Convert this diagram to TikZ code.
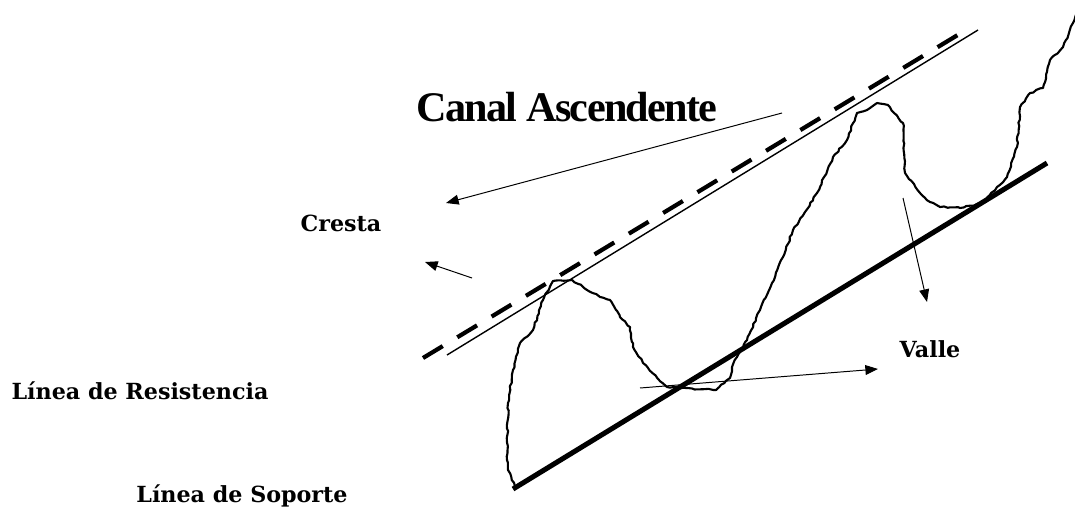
\documentclass[tikz,border=0pt]{standalone}
\usepackage{fontspec}
\newfontfamily\labelfont{DejaVu Serif}
\newfontfamily\canalfont{Liberation Serif}[LetterSpace=-4.0]
\usepackage{tikz}
\usetikzlibrary{arrows.meta, decorations.pathmorphing}
\definecolor{inkblack}{RGB}{0, 0, 0}

\tikzset{
	labeltext/.style={text=inkblack, inner sep=0pt, font=\labelfont\bfseries\fontsize{15.8}{18}\selectfont},
	pointer/.style={draw=inkblack, line width=0.7pt, -{Triangle[length=9pt,width=7pt]}},
	price/.style={draw=inkblack, line width=1.5pt, line join=round,
		decorate, decoration={random steps, segment length=2.5pt, amplitude=0.6pt}}
}

\begin{document}
\begin{tikzpicture}[x=0.025cm, y=-0.025cm]
	\useasboundingbox (0,0) rectangle (1075,506);

	\draw[inkblack, line width=3pt, dash pattern=on 16.4pt off 12.1pt] (423,358) -- (966,30);
	\draw[inkblack, line width=1pt] (447,355) -- (978,30);
	\draw[inkblack, line width=3.6pt] (513,489) -- (1047,163);

	\draw[price] (515,487) -- (508,470) -- (507,460) -- (508,403) -- (513,370) -- (520,343)
		-- (533,330) -- (543,300) -- (547,292) -- (553,281) -- (572,280) -- (600,297)
		-- (610,300) -- (620,317) -- (630,327) -- (633,347) -- (643,363) -- (667,387)
		-- (716,390) -- (730,378) -- (732,367) -- (737,357) -- (747,340) -- (760,310)
		-- (772,283) -- (783,257) -- (793,230) -- (805,212) -- (817,193) -- (833,157)
		-- (847,140) -- (857,113) -- (867,110) -- (877,103) -- (888,105) -- (903,123)
		-- (905,173) -- (920,193) -- (930,202) -- (940,207) -- (960,208) -- (983,203)
		-- (997,187) -- (1007,177) -- (1017,147) -- (1020,107) -- (1030,93) -- (1043,88)
		-- (1050,60) -- (1063,47) -- (1073,23) -- (1080,0);

	\node[text=inkblack, inner sep=0pt, font=\canalfont\bfseries\fontsize{30}{32}\selectfont] (canal) at (567,107) {Canal Ascendente};
	\node[labeltext] (cresta) at (341,223) {Cresta};
	\node[labeltext] (valle) at (930,349) {Valle};
	\node[labeltext] (resistencia) at (140,391) {Línea de Resistencia};
	\node[labeltext] (soporte) at (242,496) {Línea de Soporte};

	\coordinate (canaltail) at (782,113);
	\coordinate (canalhead) at (446,203);
	\coordinate (crestatail) at (472,278);
	\coordinate (crestahead) at (425,262);
	\coordinate (valletail) at (640,388);
	\coordinate (vallehead) at (878,369);
	\coordinate (downtail) at (903,198);
	\coordinate (downhead) at (927,302);

	\draw[pointer] (canaltail) -- (canalhead);
	\draw[pointer] (crestatail) -- (crestahead);
	\draw[pointer] (valletail) -- (vallehead);
	\draw[pointer] (downtail) -- (downhead);
\end{tikzpicture}
\end{document}
